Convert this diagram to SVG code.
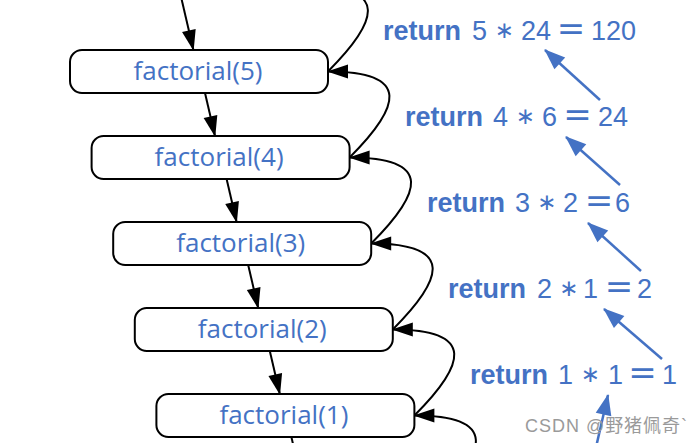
<svg xmlns="http://www.w3.org/2000/svg" width="699" height="443" viewBox="0 0 699 443">
<style>
.node rect{fill:#fff;stroke:#000;stroke-width:2}
.node text{font-family:"Open Sans","DejaVu Sans",sans-serif;font-size:26px;fill:#4472C4;text-anchor:middle}
.ret{font-family:"Liberation Sans",Arial,sans-serif;font-size:27px;fill:#4472C4}
.ret .kw{font-weight:bold}
.ret .op{font-family:"DejaVu Sans",sans-serif;font-size:23px}
.ret .eq{font-family:"DejaVu Sans",sans-serif;font-size:34px}
.blk{fill:none;stroke:#000;stroke-width:2}
.blu{fill:none;stroke:#4472C4;stroke-width:2.5}
.wm{font-family:"Liberation Sans","Noto Sans CJK SC",sans-serif;font-size:18px;fill:#9a9a9a}
</style>
<defs>
<marker id="ah" markerUnits="userSpaceOnUse" markerWidth="22" markerHeight="14" refX="20" refY="7" orient="auto" overflow="visible"><path d="M0,0 L21,7 L0,14 Z" fill="#000"/></marker>
<marker id="bh" markerUnits="userSpaceOnUse" markerWidth="22" markerHeight="16" refX="20" refY="8" orient="auto" overflow="visible"><path d="M0,0 L21,8 L0,16 Z" fill="#4472C4"/></marker>
</defs>

<g id="connectors">
<path class="blk" d="M181.3,-2 L193.4,50" marker-end="url(#ah)"/>
<path class="blk" d="M205,93 L215,136" marker-end="url(#ah)"/>
<path class="blk" d="M226.6,179 L236.6,222" marker-end="url(#ah)"/>
<path class="blk" d="M248.2,265 L258.2,308" marker-end="url(#ah)"/>
<path class="blk" d="M269.8,351 L279.8,394" marker-end="url(#ah)"/>
<path class="blk" d="M291.4,437 L299,470"/>
<path class="blk" d="M328,71.5 C378,21.5 391.4,-14.5 306.4,-14.5"/>
<path class="blk" d="M349.6,157.5 C399.6,107.5 413,71.5 328,71.5" marker-end="url(#ah)"/>
<path class="blk" d="M371.2,243.5 C421.2,193.5 434.6,157.5 349.6,157.5" marker-end="url(#ah)"/>
<path class="blk" d="M392.8,329.5 C442.8,279.5 456.2,243.5 371.2,243.5" marker-end="url(#ah)"/>
<path class="blk" d="M414.4,415.5 C464.4,365.5 477.8,329.5 392.8,329.5" marker-end="url(#ah)"/>
<path class="blk" d="M436,501.5 C486,451.5 499.4,415.5 414.4,415.5" marker-end="url(#ah)"/>
<path class="blu" d="M600,100 L545,50" marker-end="url(#bh)"/>
<path class="blu" d="M620,185 L566,137" marker-end="url(#bh)"/>
<path class="blu" d="M641,271 L588,223" marker-end="url(#bh)"/>
<path class="blu" d="M662,359 L604,309" marker-end="url(#bh)"/>
<path class="blu" d="M594,456 L608,395" marker-end="url(#bh)"/>
</g>

<g id="n5" class="node"><rect x="70" y="50" width="258" height="43" rx="12"/><text x="198" y="80">factorial(5)</text></g>
<g id="n4" class="node"><rect x="91.6" y="136" width="258" height="43" rx="12"/><text x="219.1" y="166">factorial(4)</text></g>
<g id="n3" class="node"><rect x="113.2" y="222" width="258" height="43" rx="12"/><text x="240.7" y="252">factorial(3)</text></g>
<g id="n2" class="node"><rect x="134.8" y="308" width="258" height="43" rx="12"/><text x="262.3" y="338">factorial(2)</text></g>
<g id="n1" class="node"><rect x="156.4" y="394" width="258" height="43" rx="12"/><text x="283.9" y="424">factorial(1)</text></g>

<g id="r5"><text class="ret" y="40"><tspan class="kw" x="383">return</tspan> <tspan x="472">5</tspan> <tspan class="op" x="494.4" y="38">∗</tspan> <tspan x="521" y="40">24</tspan> <tspan class="eq" x="556.8">=</tspan> <tspan x="591">120</tspan></text></g>
<g id="r4"><text class="ret" y="126"><tspan class="kw" x="405">return</tspan> <tspan x="493">4</tspan> <tspan class="op" x="515.4" y="124">∗</tspan> <tspan x="542" y="126">6</tspan> <tspan class="eq" x="563.3">=</tspan> <tspan x="598">24</tspan></text></g>
<g id="r3"><text class="ret" y="212"><tspan class="kw" x="427">return</tspan> <tspan x="515">3</tspan> <tspan class="op" x="536.9" y="210">∗</tspan> <tspan x="563" y="212">2</tspan> <tspan class="eq" x="584.8">=</tspan> <tspan x="615">6</tspan></text></g>
<g id="r2"><text class="ret" y="298"><tspan class="kw" x="448">return</tspan> <tspan x="537">2</tspan> <tspan class="op" x="558.9" y="296">∗</tspan> <tspan x="583" y="298">1</tspan> <tspan class="eq" x="604.8">=</tspan> <tspan x="637">2</tspan></text></g>
<g id="r1"><text class="ret" y="384"><tspan class="kw" x="470">return</tspan> <tspan x="558">1</tspan> <tspan class="op" x="580.4" y="382">∗</tspan> <tspan x="608" y="384">1</tspan> <tspan class="eq" x="628.3">=</tspan> <tspan x="662">1</tspan></text></g>

<text class="wm" x="525" y="432" textLength="162">CSDN @野猪佩奇`</text>
</svg>
